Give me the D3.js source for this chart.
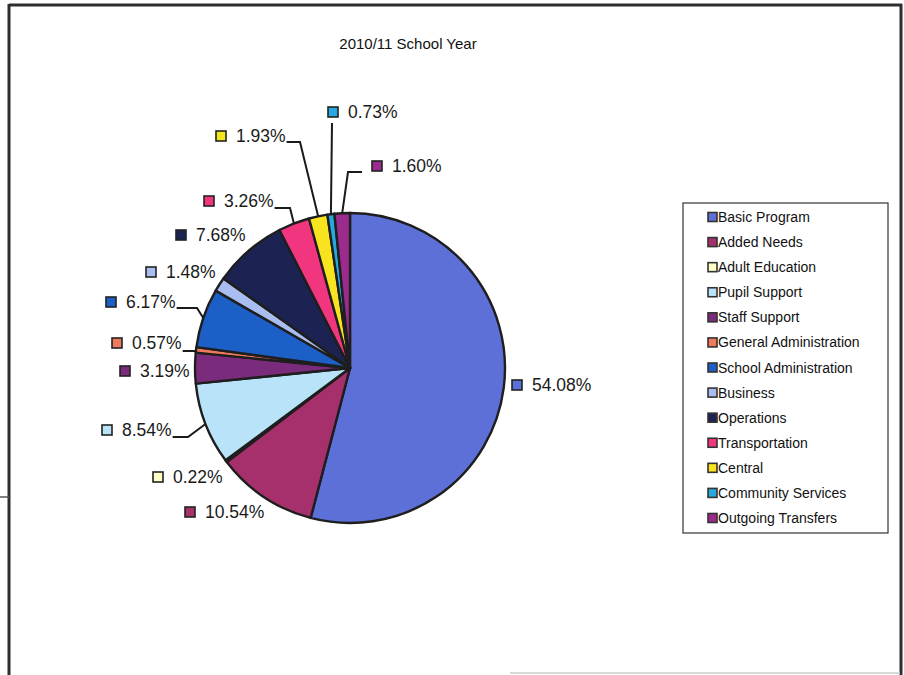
<!DOCTYPE html>
<html>
<head>
<meta charset="utf-8">
<script src="https://cdn.jsdelivr.net/npm/d3@7/dist/d3.min.js"></script>
<style>
  html, body { margin: 0; padding: 0; background: #fff; }
  svg { display: block; font-family: "Liberation Sans", Arial, sans-serif; }
</style>
</head>
<body>
<svg id="chart" width="904" height="675"></svg>
<script>
// Spending share by program area, 2010/11 school year (percent of total)
const title = "2010/11 School Year";
const categories = [
  "Basic Program", "Added Needs", "Adult Education", "Pupil Support",
  "Staff Support", "General Administration", "School Administration",
  "Business", "Operations", "Transportation", "Central",
  "Community Services", "Outgoing Transfers"
];
const shares = [54.08, 10.54, 0.22, 8.54, 3.19, 0.57, 6.17, 1.48, 7.68, 3.26, 1.93, 0.73, 1.60];
const colors = [
  "#5d70d8", "#a5306b", "#ffffc6", "#b9e3f8", "#7a2b7c", "#f07a5c", "#1c5fc6",
  "#aabdf0", "#1c2352", "#f1367f", "#f7e31e", "#27a8df", "#9b2b8c"
];

// Label placement: marker centre for each value label, and the bend point
// of its leader line (null = no leader, "h" = straight horizontal leader).
const labelPos = [
  [517, 385], [190, 512], [158, 477], [107, 430], [125, 371], [117, 343], [111, 302],
  [151, 272], [181, 235], [209, 201], [221, 136], [333, 112], [377, 166]
];
const leaderBend = [
  null, null, null, [188, 437], null, "h", [197, 308],
  null, null, [290, 208], [300, 142], [332, 123], [348, 172]
];

const svg = d3.select("#chart");
const W = 904, H = 675;

// page frame
const frame = svg.append("g").attr("stroke", "#2e2e2e").attr("fill", "none");
frame.append("line").attr("x1", 9).attr("y1", 5).attr("x2", 902).attr("y2", 5).attr("stroke-width", 3);
frame.append("line").attr("x1", 9).attr("y1", 4).attr("x2", 9).attr("y2", H).attr("stroke-width", 3);
frame.append("line").attr("x1", 901).attr("y1", 4).attr("x2", 901).attr("y2", H).attr("stroke-width", 3);
frame.append("line").attr("x1", 0).attr("y1", 497).attr("x2", 9).attr("y2", 497).attr("stroke-width", 1.5).attr("stroke", "#555");
frame.append("line").attr("x1", 510).attr("y1", 673).attr("x2", 900).attr("y2", 673).attr("stroke-width", 1.5).attr("stroke", "#ccc");

// title
svg.append("text")
  .attr("x", 408).attr("y", 49)
  .attr("text-anchor", "middle")
  .attr("font-size", 15)
  .attr("fill", "#111")
  .text(title);

// pie
const cx = 350, cy = 368, R = 155;
const data = categories.map((c, i) => ({ name: c, value: shares[i], color: colors[i], i }));
const pie = d3.pie().value(d => d.value).sort(null).startAngle(0).endAngle(2 * Math.PI);
const arcs = pie(data);
const arc = d3.arc().innerRadius(0).outerRadius(R);

const g = svg.append("g").attr("transform", `translate(${cx},${cy})`);
g.selectAll("path.slice")
  .data(arcs)
  .join("path")
  .attr("class", "slice")
  .attr("d", arc)
  .attr("fill", d => d.data.color)
  .attr("stroke", "#1e1e1e")
  .attr("stroke-width", 2.4)
  .attr("stroke-linejoin", "round");

// value labels: coloured key square + percentage text
const labels = svg.append("g");
const textEnds = [];
arcs.forEach((d, i) => {
  const [lx, ly] = labelPos[i];
  labels.append("rect")
    .attr("x", lx - 5).attr("y", ly - 5)
    .attr("width", 10).attr("height", 10)
    .attr("fill", d.data.color)
    .attr("stroke", "#222").attr("stroke-width", 1.6);
  const t = labels.append("text")
    .attr("x", lx + 15).attr("y", ly + 6)
    .attr("font-size", 17.5)
    .attr("fill", "#1a1a1a")
    .text(d3.format(".2f")(d.data.value) + "%");
  textEnds[i] = lx + 15 + t.node().getComputedTextLength();
});

// leader lines from slice edge to the label
const edgePoint = d => {
  const a = (d.startAngle + d.endAngle) / 2;
  return [cx + R * Math.sin(a), cy - R * Math.cos(a)];
};
const leaders = svg.append("g").attr("stroke", "#1a1a1a").attr("stroke-width", 2).attr("fill", "none");
arcs.forEach((d, i) => {
  const bend = leaderBend[i];
  if (!bend) return;
  const [ex, ey] = edgePoint(d);
  const [lx, ly] = labelPos[i];
  const textEnd = textEnds[i] + 1;
  let pts;
  if (bend === "h") {
    pts = [[textEnd, ly + 8], [ex, ly + 8]];
  } else if (i === 11) {
    pts = [[bend[0], bend[1]], [ex, ey]];
  } else if (i === 12) {
    pts = [[lx - 15, bend[1]], [bend[0], bend[1]], [ex, ey]];
  } else {
    pts = [[textEnd, bend[1]], [bend[0], bend[1]], [ex, ey]];
  }
  leaders.append("path").attr("d", d3.line()(pts));
});

// legend
const lg = svg.append("g");
lg.append("rect")
  .attr("x", 683).attr("y", 203).attr("width", 205).attr("height", 330)
  .attr("fill", "#fff").attr("stroke", "#333").attr("stroke-width", 1.2);
const rowY = d3.scalePoint().domain(categories).range([217, 518]);
categories.forEach((c, i) => {
  const y = rowY(c);
  lg.append("rect")
    .attr("x", 708).attr("y", y - 4.5)
    .attr("width", 9).attr("height", 9)
    .attr("fill", colors[i])
    .attr("stroke", "#333").attr("stroke-width", 1.6);
  lg.append("text")
    .attr("x", 718).attr("y", y + 5)
    .attr("font-size", 14)
    .attr("fill", "#111")
    .text(c);
});
</script>
</body>
</html>
